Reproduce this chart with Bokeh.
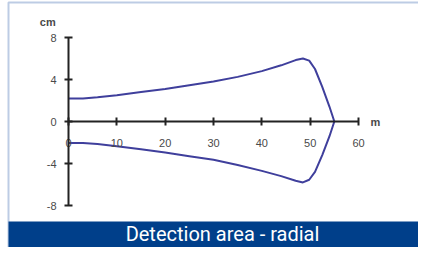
from bokeh.plotting import figure
from bokeh.models import Range1d, FixedTicker, BoxAnnotation, Label
from bokeh.embed import file_html
from bokeh.resources import INLINE

# Data
upper_x = [0, 3, 6, 10, 15, 20, 25, 30, 35, 40, 44, 47, 48.5, 49.8, 51, 52.5, 54, 55]
upper_y = [2.2, 2.2, 2.3, 2.5, 2.8, 3.1, 3.45, 3.8, 4.25, 4.8, 5.35, 5.85, 6.0, 5.8, 5.0, 3.3, 1.4, 0]
lower_x = [0, 3, 6, 10, 15, 20, 25, 30, 35, 40, 44, 47, 48.5, 49.8, 51, 52.5, 54, 55]
lower_y = [-2.05, -2.05, -2.15, -2.35, -2.65, -2.95, -3.3, -3.65, -4.15, -4.7, -5.2, -5.65, -5.8, -5.55, -4.8, -3.2, -1.4, 0]
x_ticks = [0, 10, 20, 30, 40, 50, 60]
y_ticks = [-8, -4, 0, 4, 8]
x_unit = "m"
y_unit = "cm"
caption = "Detection area - radial"

W, H = 418, 247
px_x = 290 / 60.0
px_y = 84 / 8.0
x0 = -68 / px_x
x1 = x0 + W / px_x
y1 = 121 / px_y
y0 = y1 - H / px_y

p = figure(width=W, height=H, output_backend="svg", toolbar_location=None,
           x_range=Range1d(x0, x1), y_range=Range1d(y0, y1),
           min_border=0, min_border_left=0, min_border_right=0,
           min_border_top=0, min_border_bottom=0)
p.background_fill_color = "white"
p.border_fill_color = "white"
p.outline_line_color = None
p.grid.visible = False

for ax in (p.xaxis[0], p.yaxis[0]):
    ax.fixed_location = 0
    ax.axis_line_color = "#222222"
    ax.axis_line_width = 2
    ax.major_tick_line_color = "#222222"
    ax.major_tick_line_width = 2
    ax.major_tick_in = 4
    ax.major_tick_out = 4
    ax.minor_tick_line_color = None
    ax.major_label_text_font = "Liberation Sans"
    ax.major_label_text_font_size = "11px"
    ax.major_label_text_color = "#4a4a4a"

p.xaxis.ticker = FixedTicker(ticks=x_ticks)
p.yaxis.ticker = FixedTicker(ticks=y_ticks)
p.xaxis.major_label_overrides = {t: str(t) for t in x_ticks}
p.yaxis.major_label_overrides = {t: str(t) for t in y_ticks}
p.xaxis.bounds = (x_ticks[0], x_ticks[-1])
p.yaxis.bounds = (y_ticks[0], y_ticks[-1])
p.xaxis.major_label_standoff = 13
p.yaxis.major_label_standoff = 8

# frame border (top and left visible in the reference)
p.add_layout(BoxAnnotation(left=-60 / px_x, top=119 / px_y, right=x1 + 5, bottom=y0 - 5,
                           fill_alpha=0, line_color="#2456a4", line_width=2))

p.line(upper_x, upper_y, line_color="#3f3f9c", line_width=2)
p.line(lower_x, lower_y, line_color="#3f3f9c", line_width=2)

p.add_layout(Label(x=-4.3, y=9.5, text=y_unit, text_align="center", text_baseline="middle",
                   text_font="Liberation Sans", text_font_size="11px", text_font_style="bold",
                   text_color="#4a4a4a"))
p.add_layout(Label(x=62.5, y=0, text=x_unit, text_align="left", text_baseline="middle",
                   text_font="Liberation Sans", text_font_size="11px", text_font_style="bold",
                   text_color="#4a4a4a"))

p.add_layout(BoxAnnotation(left=-60 / px_x, top=-100 / px_y, fill_color="#003f8a",
                           fill_alpha=1.0, line_color=None))
p.add_layout(Label(x=154 / px_x, y=-112 / px_y, text=caption, text_align="center",
                   text_baseline="middle", text_font="Roboto", text_font_size="20px",
                   text_color="white"))

open("out.html", "w").write(file_html(p, INLINE))
